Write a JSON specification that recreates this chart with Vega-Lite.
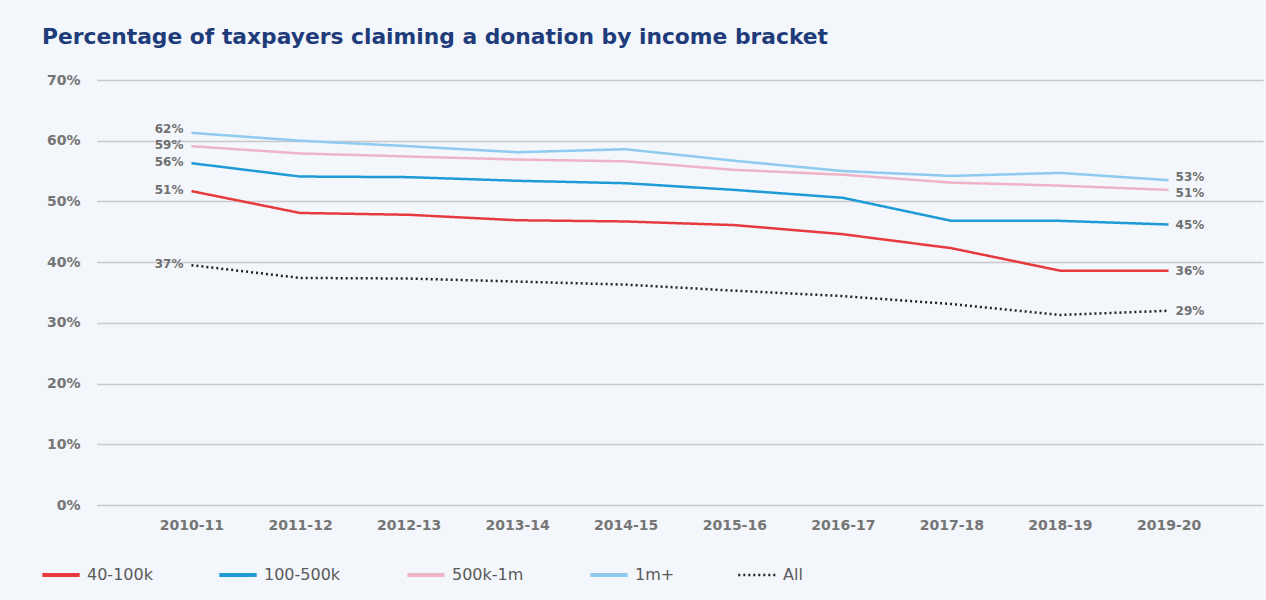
{
  "$schema": "https://vega.github.io/schema/vega-lite/v6.json",
  "autosize": "none",
  "width": 1166,
  "height": 425,
  "padding": {"left": 97, "top": 80, "right": 3, "bottom": 95},
  "background": "#f3f6fb",
  "title": {
    "text": "Percentage of taxpayers claiming a donation by income bracket",
    "anchor": "start",
    "frame": "group",
    "dx": -55,
    "offset": 24,
    "font": "DejaVu Sans",
    "fontSize": 21.8,
    "fontWeight": 700,
    "color": "#1f3c7a"
  },
  "config": {
    "view": {"stroke": null},
    "font": "DejaVu Sans"
  },
  "data": {
    "values": [
      {"year": "2010-11", "series": "40-100k", "value": 51.7, "label": "51%"},
      {"year": "2011-12", "series": "40-100k", "value": 48.1},
      {"year": "2012-13", "series": "40-100k", "value": 47.8},
      {"year": "2013-14", "series": "40-100k", "value": 46.9},
      {"year": "2014-15", "series": "40-100k", "value": 46.7},
      {"year": "2015-16", "series": "40-100k", "value": 46.1},
      {"year": "2016-17", "series": "40-100k", "value": 44.6},
      {"year": "2017-18", "series": "40-100k", "value": 42.3},
      {"year": "2018-19", "series": "40-100k", "value": 38.6},
      {"year": "2019-20", "series": "40-100k", "value": 38.6, "label": "36%"},
      {"year": "2010-11", "series": "100-500k", "value": 56.3, "label": "56%"},
      {"year": "2011-12", "series": "100-500k", "value": 54.1},
      {"year": "2012-13", "series": "100-500k", "value": 54.0},
      {"year": "2013-14", "series": "100-500k", "value": 53.4},
      {"year": "2014-15", "series": "100-500k", "value": 53.0},
      {"year": "2015-16", "series": "100-500k", "value": 51.9},
      {"year": "2016-17", "series": "100-500k", "value": 50.6},
      {"year": "2017-18", "series": "100-500k", "value": 46.8},
      {"year": "2018-19", "series": "100-500k", "value": 46.8},
      {"year": "2019-20", "series": "100-500k", "value": 46.2, "label": "45%"},
      {"year": "2010-11", "series": "500k-1m", "value": 59.1, "label": "59%"},
      {"year": "2011-12", "series": "500k-1m", "value": 57.9},
      {"year": "2012-13", "series": "500k-1m", "value": 57.4},
      {"year": "2013-14", "series": "500k-1m", "value": 56.9},
      {"year": "2014-15", "series": "500k-1m", "value": 56.6},
      {"year": "2015-16", "series": "500k-1m", "value": 55.2},
      {"year": "2016-17", "series": "500k-1m", "value": 54.4},
      {"year": "2017-18", "series": "500k-1m", "value": 53.1},
      {"year": "2018-19", "series": "500k-1m", "value": 52.6},
      {"year": "2019-20", "series": "500k-1m", "value": 51.9, "label": "51%"},
      {"year": "2010-11", "series": "1m+", "value": 61.3, "label": "62%"},
      {"year": "2011-12", "series": "1m+", "value": 60.0},
      {"year": "2012-13", "series": "1m+", "value": 59.1},
      {"year": "2013-14", "series": "1m+", "value": 58.1},
      {"year": "2014-15", "series": "1m+", "value": 58.6},
      {"year": "2015-16", "series": "1m+", "value": 56.7},
      {"year": "2016-17", "series": "1m+", "value": 55.0},
      {"year": "2017-18", "series": "1m+", "value": 54.2},
      {"year": "2018-19", "series": "1m+", "value": 54.7},
      {"year": "2019-20", "series": "1m+", "value": 53.5, "label": "53%"},
      {"year": "2010-11", "series": "All", "value": 39.5, "label": "37%"},
      {"year": "2011-12", "series": "All", "value": 37.4},
      {"year": "2012-13", "series": "All", "value": 37.3},
      {"year": "2013-14", "series": "All", "value": 36.8},
      {"year": "2014-15", "series": "All", "value": 36.3},
      {"year": "2015-16", "series": "All", "value": 35.3},
      {"year": "2016-17", "series": "All", "value": 34.4},
      {"year": "2017-18", "series": "All", "value": 33.1},
      {"year": "2018-19", "series": "All", "value": 31.3},
      {"year": "2019-20", "series": "All", "value": 32.0, "label": "29%"}
    ]
  },
  "encoding": {
    "x": {
      "field": "year",
      "type": "ordinal",
      "scale": {"type": "point", "padding": 0.87},
      "axis": {
        "title": null,
        "domain": false,
        "ticks": false,
        "grid": false,
        "labelAngle": 0,
        "labelPadding": 13,
        "labelFont": "DejaVu Sans",
        "labelFontSize": 14,
        "labelFontWeight": 700,
        "labelColor": "#757575"
      }
    },
    "y": {
      "field": "value",
      "type": "quantitative",
      "scale": {"domain": [0, 70], "nice": false},
      "axis": {
        "title": null,
        "domain": false,
        "ticks": false,
        "values": [0, 10, 20, 30, 40, 50, 60, 70],
        "labelExpr": "datum.value + '%'",
        "labelPadding": 17,
        "labelFont": "DejaVu Sans",
        "labelFontSize": 14,
        "labelFontWeight": 700,
        "labelColor": "#757575",
        "gridColor": "#cbc8cc",
        "gridWidth": 1.5
      }
    }
  },
  "layer": [
    {
      "mark": {"type": "line", "strokeWidth": 2.5},
      "encoding": {
        "color": {
          "field": "series",
          "type": "nominal",
          "scale": {
            "domain": ["40-100k", "100-500k", "500k-1m", "1m+", "All"],
            "range": ["#e63a3f", "#1e9ad6", "#efb3c7", "#8ecbef", "#222222"]
          },
          "legend": {
            "title": null,
            "orient": "none",
            "direction": "horizontal",
            "legendX": -44,
            "legendY": 487,
            "symbolType": "stroke",
            "symbolSize": 1400,
            "symbolStrokeWidth": 4,
            "labelFont": "DejaVu Sans",
            "labelFontSize": 16,
            "labelFontWeight": 400,
            "labelColor": "#5a5a5a",
            "labelOffset": 18,
            "columnPadding": 58,
            "encode": {
              "symbols": {
                "update": {
                  "stroke": {"signal": "datum.value === '100-500k' ? '#4a77be' : scale('color', datum.value)"},
                  "strokeWidth": {"signal": "datum.value === 'All' ? 2.5 : 4"}
                }
              }
            }
          }
        },
        "strokeDash": {
          "field": "series",
          "type": "nominal",
          "scale": {
            "domain": ["40-100k", "100-500k", "500k-1m", "1m+", "All"],
            "range": [[1, 0], [1, 0], [1, 0], [1, 0], [2, 3]]
          },
          "legend": null
        }
      }
    },
    {
      "transform": [{"filter": "datum.year === '2010-11' && datum.series !== '1m+'"}],
      "mark": {"type": "text", "align": "right", "dx": -8, "dy": -1, "font": "DejaVu Sans", "fontSize": 12, "fontWeight": 600, "color": "#707070"},
      "encoding": {"text": {"field": "label"}}
    },
    {
      "transform": [{"filter": "datum.year === '2010-11' && datum.series === '1m+'"}],
      "mark": {"type": "text", "align": "right", "dx": -8, "dy": -4, "font": "DejaVu Sans", "fontSize": 12, "fontWeight": 600, "color": "#707070"},
      "encoding": {"text": {"field": "label"}}
    },
    {
      "transform": [{"filter": "datum.year === '2019-20' && datum.series !== '1m+' && datum.series !== '500k-1m'"}],
      "mark": {"type": "text", "align": "left", "dx": 7, "dy": 0, "font": "DejaVu Sans", "fontSize": 12, "fontWeight": 600, "color": "#707070"},
      "encoding": {"text": {"field": "label"}}
    },
    {
      "transform": [{"filter": "datum.year === '2019-20' && datum.series === '1m+'"}],
      "mark": {"type": "text", "align": "left", "dx": 7, "dy": -3, "font": "DejaVu Sans", "fontSize": 12, "fontWeight": 600, "color": "#707070"},
      "encoding": {"text": {"field": "label"}}
    },
    {
      "transform": [{"filter": "datum.year === '2019-20' && datum.series === '500k-1m'"}],
      "mark": {"type": "text", "align": "left", "dx": 7, "dy": 3, "font": "DejaVu Sans", "fontSize": 12, "fontWeight": 600, "color": "#707070"},
      "encoding": {"text": {"field": "label"}}
    }
  ]
}
